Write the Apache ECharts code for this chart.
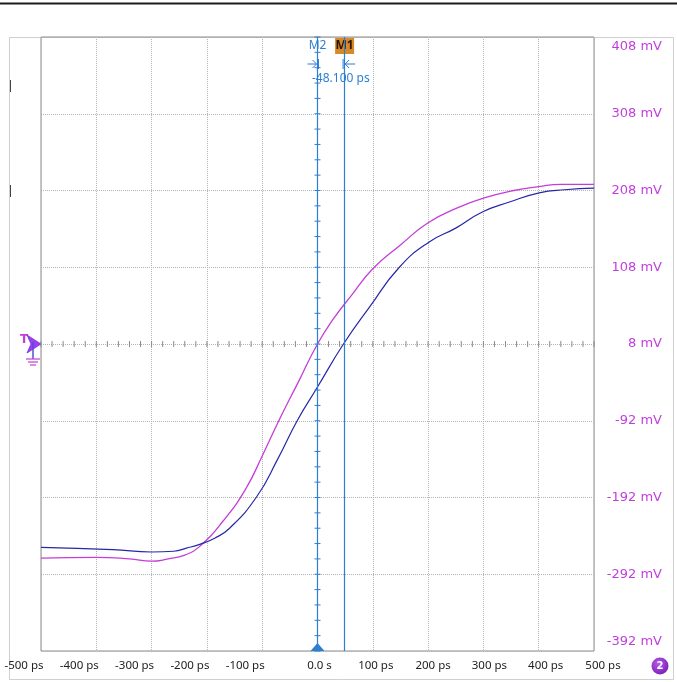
<!DOCTYPE html>
<html><head><meta charset="utf-8">
<script src="https://cdn.jsdelivr.net/npm/echarts@6/dist/echarts.min.js"></script>
<style>html,body{margin:0;padding:0;background:#fff}#c{width:677px;height:682px}</style>
</head><body><div id="c"></div>
<script>
// ---- data ----
const magentaTimePs = [-500,-400,-340,-300,-270,-240,-215,-170,-130,-100,-70,-35,0,30,60,100,150,200,255,300,355,400,440,500];
const magentaMv     = [-271,-270,-272,-275,-272,-267,-257,-222,-181,-138,-92,-42,8,42,70,106,137,166,186,198,208,213,216,216];
const blueTimePs = [-500,-370,-300,-260,-237,-213,-186,-159,-110,-72,-36,0,47,94,148,202,250,298,347,401,447,500];
const blueMv     = [-257,-260,-263,-262,-258,-253,-245,-232,-191,-142,-91,-48,8,56,108,141,159,180,193,205,209,211];
const xTickValues = [-500,-400,-300,-200,-100,0,100,200,300,400,500];
const xTickLabels = ['-500 ps','-400 ps','-300 ps','-200 ps','-100 ps','0.0 s','100 ps','200 ps','300 ps','400 ps','500 ps'];
const yTickLabels = ['-392 mV','-292 mV','-192 mV','-92 mV','8 mV','108 mV','208 mV','308 mV','408 mV'];
const OFFSET_MV = 8;          // vertical offset of the screen centre
const M1_PS = 48.1, M2_PS = 0;
const deltaLabel = '-48.100 ps';

const magentaPts = magentaTimePs.map((t,i)=>[t, magentaMv[i]-OFFSET_MV]);
const bluePts = blueTimePs.map((t,i)=>[t, blueMv[i]-OFFSET_MV]);
const hTicks=[]; for(let t=-500;t<=500;t+=20) hTicks.push([t,0]);
const vTicks=[]; for(let v=-400;v<=400;v+=20) vTicks.push([M2_PS,v]);

const MARK_BLUE='#2b7fd4', MAG='#c43ed6', NAVY='#2727a8', LBL='#c23de0';
const chart = echarts.init(document.getElementById('c'));
const tickRender=(horiz,color)=>(params,api)=>{
  const p=api.coord([api.value(0),api.value(1)]);
  return {type:'line',shape:horiz?{x1:p[0],y1:p[1]-3,x2:p[0],y2:p[1]+3}:{x1:p[0]-3,y1:p[1],x2:p[0]+3,y2:p[1]},style:{stroke:color,lineWidth:1}};
};
const xRich={};
const xLabelFmt=v=>{
  const s=xTickLabels[xTickValues.indexOf(v)];
  // shift: negative labels sit left of their grid line, positive ones slightly right
  const sh = v<0 ? -17 : Math.round(2+v/100*1.3);
  const key='s'+(sh<0?'m'+(-sh):sh);
  xRich[key]={padding:sh<0?[0,-2*sh,0,0]:[0,0,0,2*sh],color:'#222',fontFamily:'Noto Sans',fontSize:11.5};
  return '{'+key+'|'+s+'}';
};
xTickValues.forEach(xLabelFmt);
chart.setOption({
  animation:false,
  grid:{left:41,right:83,top:37,bottom:31,outerBoundsMode:'none',containLabel:false,show:true,borderColor:'#8a8a8a',borderWidth:1,backgroundColor:'transparent'},
  xAxis:{type:'value',min:-500,max:500,interval:100,
    axisLine:{show:false},axisTick:{show:false},
    splitLine:{show:true,lineStyle:{color:'#b4b4b4',type:[1,1],width:1}},
    axisLabel:{color:'#222',fontFamily:'Noto Sans',fontSize:11.5,margin:9,formatter:xLabelFmt,rich:xRich,hideOverlap:false}},
  yAxis:{type:'value',position:'right',min:-400,max:400,interval:100,
    axisLine:{show:false},axisTick:{show:false},
    splitLine:{show:true,lineStyle:{color:'#b4b4b4',type:[1,1],width:1}},
    axisLabel:{color:LBL,fontFamily:'DejaVu Sans',fontSize:13,align:'right',margin:68,
      formatter:v=>{const i=Math.round((v+400)/100);const s=yTickLabels[i];
        if(i===yTickLabels.length-1) return '{top|'+s+'}';
        if(i===0) return '{bot|'+s+'}';
        return s;},
      rich:{top:{padding:[20,0,0,0],color:LBL,fontFamily:'DejaVu Sans',fontSize:13,align:'right'},
            bot:{padding:[0,0,18,0],color:LBL,fontFamily:'DejaVu Sans',fontSize:13,align:'right'}}}},
  series:[
    {type:'custom',renderItem:tickRender(true,'#8a8a8a'),data:hTicks,silent:true,z:1},
    {type:'line',data:magentaPts,showSymbol:false,smooth:0.5,
      lineStyle:{color:MAG,width:1.3},z:3},
    {type:'line',data:bluePts,showSymbol:false,smooth:0.5,
      lineStyle:{color:NAVY,width:1.2},z:3,
      markLine:{silent:true,symbol:'none',label:{show:false},
        lineStyle:{color:MARK_BLUE,width:1.2,type:'solid'},
        data:[{xAxis:M2_PS},{xAxis:M1_PS}]}},
    {type:'custom',renderItem:tickRender(false,MARK_BLUE),data:vTicks,silent:true,z:4}
  ]
});
const pM2=chart.convertToPixel({gridIndex:0},[M2_PS,0]);
const pM1=chart.convertToPixel({gridIndex:0},[M1_PS,0]);
const bottomY=chart.convertToPixel({gridIndex:0},[0,-400])[1];
const topY=chart.convertToPixel({gridIndex:0},[0,400])[1];
const x2=pM2[0], x1=pM1[0], cy=pM2[1];
chart.setOption({graphic:[
  {type:'line',shape:{x1:0,y1:3.5,x2:677,y2:3.5},style:{stroke:'#1a1a1a',lineWidth:2}},
  {type:'rect',shape:{x:9.5,y:37.5,width:664,height:642},style:{fill:'none',stroke:'#cfcfcf',lineWidth:1},z:-1},
  {type:'line',shape:{x1:10.5,y1:80,x2:10.5,y2:92},style:{stroke:'#444',lineWidth:1}},
  {type:'line',shape:{x1:10.5,y1:185,x2:10.5,y2:197},style:{stroke:'#444',lineWidth:1}},
  // marker labels
  {type:'text',x:x2,y:topY+9,style:{text:'M2',fill:MARK_BLUE,font:'12px "Noto Sans"',align:'center',verticalAlign:'middle'}},
  {type:'rect',shape:{x:x1-9,y:topY+1,width:19,height:16},style:{fill:'#d7892a'}},
  {type:'text',x:x1+0.5,y:topY+9,style:{text:'M1',fill:'#2a1600',font:'bold 12px "Noto Sans"',align:'center',verticalAlign:'middle'}},
  // arrows
  {type:'line',shape:{x1:x2-10,y1:topY+27,x2:x2-1,y2:topY+27},style:{stroke:MARK_BLUE,lineWidth:1}},
  {type:'polyline',shape:{points:[[x2-5,topY+23],[x2-1,topY+27],[x2-5,topY+31]]},style:{stroke:MARK_BLUE,fill:'none',lineWidth:1}},
  {type:'line',shape:{x1:x2+1,y1:topY+22,x2:x2+1,y2:topY+32},style:{stroke:MARK_BLUE,lineWidth:1}},
  {type:'line',shape:{x1:x1+1,y1:topY+27,x2:x1+11,y2:topY+27},style:{stroke:MARK_BLUE,lineWidth:1}},
  {type:'polyline',shape:{points:[[x1+5,topY+23],[x1+1,topY+27],[x1+5,topY+31]]},style:{stroke:MARK_BLUE,fill:'none',lineWidth:1}},
  {type:'line',shape:{x1:x1-1,y1:topY+22,x2:x1-1,y2:topY+32},style:{stroke:MARK_BLUE,lineWidth:1}},
  {type:'text',x:(x1+x2)/2+10,y:topY+42,style:{text:deltaLabel,fill:MARK_BLUE,font:'12px "Noto Sans"',align:'center',verticalAlign:'middle'}},
  // trigger position triangle
  {type:'polygon',shape:{points:[[x2-7,bottomY],[x2,bottomY-8],[x2+7,bottomY]]},style:{fill:MARK_BLUE}},
  // trigger level icon
  {type:'text',x:20,y:cy-4,style:{text:'T',fill:MAG,font:'bold 12px "DejaVu Sans"',verticalAlign:'middle'}},
  {type:'polygon',shape:{points:[[27,cy-9],[41,cy],[27,cy+9],[31,cy]]},style:{fill:'#a33cf0',stroke:'#6a3ad8',lineWidth:0.8}},
  {type:'line',shape:{x1:33,y1:cy-2,x2:33,y2:cy+15},style:{stroke:'#5a4ad8',lineWidth:1.5}},
  {type:'line',shape:{x1:26,y1:cy+15,x2:40,y2:cy+15},style:{stroke:MAG,lineWidth:1.2}},
  {type:'line',shape:{x1:28,y1:cy+18,x2:38,y2:cy+18},style:{stroke:MAG,lineWidth:1.2}},
  {type:'line',shape:{x1:30,y1:cy+21,x2:36,y2:cy+21},style:{stroke:MAG,lineWidth:1.2}},
  // channel badge
  {type:'circle',shape:{cx:660,cy:666,r:8.5},style:{fill:new echarts.graphic.RadialGradient(0.4,0.35,0.7,[{offset:0,color:'#b55be8'},{offset:1,color:'#7a1fb8'}])}},
  {type:'text',x:660,y:666,style:{text:'2',fill:'#fff',font:'bold 10px "DejaVu Sans"',align:'center',verticalAlign:'middle'}}
]});
</script></body></html>
